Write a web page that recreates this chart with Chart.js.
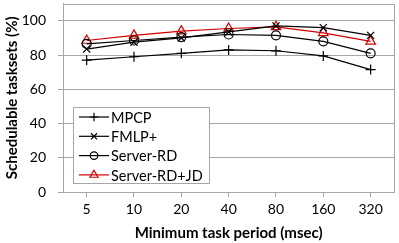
<!DOCTYPE html>
<html>
<head>
<meta charset="utf-8">
<script src="https://cdn.jsdelivr.net/npm/chart.js@4/dist/chart.umd.min.js"></script>
<style>
  html, body { margin: 0; padding: 0; background: #fff; overflow: hidden; }
  #wrap { width: 399px; height: 243px; overflow: hidden; position: relative; }
  #chart { position: absolute; left: 0; top: -3px; }
</style>
</head>
<body>
<div id="wrap"><canvas id="chart" width="401" height="246"></canvas></div>
<script>
// minimum task period (msec)
const periods = ['5', '10', '20', '40', '80', '160', '320'];

// schedulable tasksets (%) per protocol
const mpcp = [77, 79, 81, 83, 82.5, 79.5, 71.5];
const fmlp = [83.5, 87.5, 90, 93.5, 97, 96, 91.5];
const serverRd = [86.5, 88.5, 90.5, 92, 91.5, 88, 81];
const serverRdJd = [88.5, 91.5, 94, 95.5, 96.5, 93, 88];

const yTicks = [0, 20, 40, 60, 80, 100];

const FONT = 'Lato, "Open Sans", sans-serif';
const GRID = '#a6a6a6';

// legend drawn inside the plot, bottom-left, with line + marker samples
const insideLegend = {
    id: 'insideLegend',
    afterDraw(chart) {
        const c = chart.ctx;
        const area = chart.chartArea;
        // border round the plot
        c.save();
        c.strokeStyle = GRID;
        c.lineWidth = 1;
        c.strokeRect(Math.round(area.left) + 0.5, Math.round(area.top) + 0.5,
            Math.round(area.right - area.left), Math.round(area.bottom - area.top));

        // canvas sits 3px higher than the page
        const x0 = 73.5, y0 = 110.5, w = 136, h = 76;
        c.fillStyle = '#fff';
        c.fillRect(x0, y0, w, h);
        c.strokeStyle = GRID;
        c.strokeRect(x0, y0, w, h);

        c.font = '14.5px ' + FONT;
        c.textBaseline = 'middle';
        chart.data.datasets.forEach((ds, i) => {
            const y = 120 + i * 19.3;
            c.strokeStyle = ds.borderColor;
            c.fillStyle = 'rgba(0,0,0,0)';
            c.lineWidth = 1.2;
            c.beginPath();
            c.moveTo(79, y);
            c.lineTo(109, y);
            c.stroke();
            Chart.helpers.drawPoint(c, {
                pointStyle: ds.pointStyle,
                radius: ds.pointRadius * 0.85,
                borderWidth: 1.2
            }, 94, y);
            c.fillStyle = '#000';
            c.fillText(ds.label, 111, y + 1);
        });
        c.restore();
    }
};

function series(label, data, color, style, radius) {
    return {
        label: label,
        data: data,
        borderColor: color,
        backgroundColor: 'rgba(0,0,0,0)',
        borderWidth: 1.2,
        pointStyle: style,
        pointRadius: radius,
        pointBorderWidth: 1.2,
        pointBorderColor: color,
        pointBackgroundColor: 'rgba(0,0,0,0)',
        tension: 0
    };
}

new Chart(document.getElementById('chart'), {
    type: 'line',
    data: {
        labels: periods,
        datasets: [
            series('MPCP', mpcp, '#000', 'cross', 5),
            series('FMLP+', fmlp, '#000', 'crossRot', 5),
            series('Server-RD', serverRd, '#000', 'circle', 4.5),
            series('Server-RD+JD', serverRdJd, '#d00000', 'triangle', 5.5)
        ]
    },
    options: {
        responsive: false,
        animation: false,
        layout: { padding: { top: 0, right: 0, left: 0, bottom: 0 } },
        plugins: {
            legend: { display: false },
            tooltip: { enabled: false }
        },
        scales: {
            x: {
                offset: true,
                afterFit: axis => {
                    axis.height = 51;
                    axis.paddingLeft = 0;
                    axis.paddingRight = 0;
                },
                grid: {
                    display: true,
                    offset: false,
                    drawOnChartArea: false,
                    drawTicks: true,
                    tickLength: 5,
                    color: GRID
                },
                border: { display: true, color: GRID },
                ticks: { color: '#000', font: { family: FONT, size: 14 }, padding: 3.6, maxRotation: 0 },
                title: {
                    display: true,
                    text: 'Minimum task period (msec)',
                    color: '#000',
                    font: { family: FONT, size: 15, weight: 'bold' },
                    padding: { top: 6, bottom: 1 }
                }
            },
            y: {
                min: 0,
                max: 110,
                afterBuildTicks: axis => { axis.ticks = yTicks.map(v => ({ value: v })); },
                afterFit: axis => {
                    axis.width = 63;
                    axis.paddingTop = 0;
                    axis.paddingBottom = 0;
                },
                grid: { color: GRID, tickLength: 5 },
                border: { display: true, color: GRID },
                ticks: { color: '#000', font: { family: FONT, size: 14 }, padding: 12 },
                title: {
                    display: true,
                    text: 'Schedulable tasksets (%)',
                    color: '#000',
                    font: { family: FONT, size: 15, weight: 'bold' },
                    padding: { top: 3, bottom: 2 }
                }
            }
        }
    },
    plugins: [insideLegend]
});
</script>
</body>
</html>
